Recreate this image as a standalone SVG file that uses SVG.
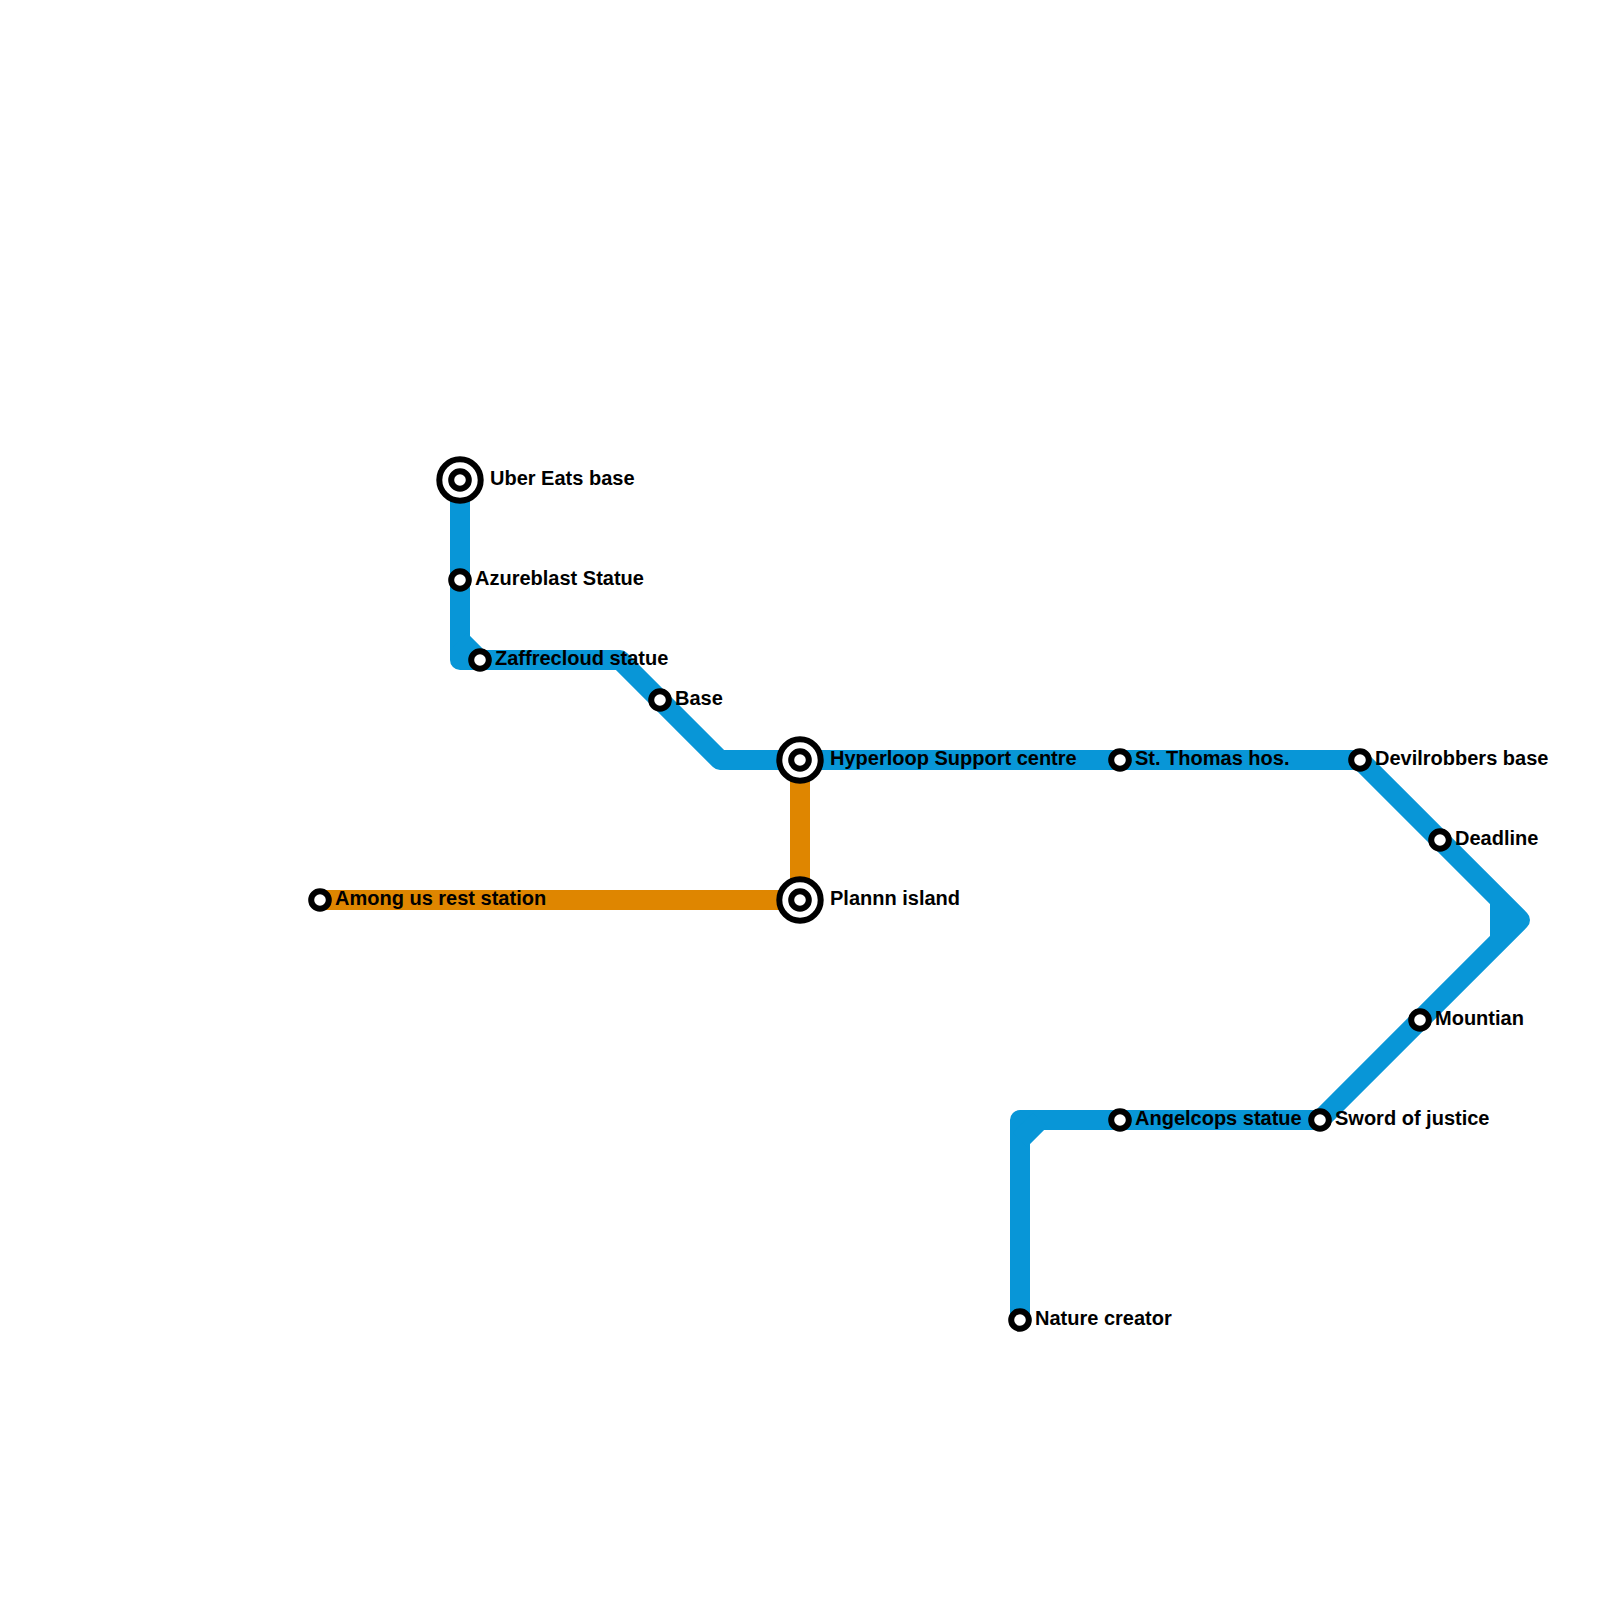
<svg xmlns="http://www.w3.org/2000/svg" width="1600" height="1600" viewBox="0 0 1600 1600">
<style>
.line{fill:none;stroke-width:20;stroke-linejoin:round;stroke-linecap:butt}
.blue{stroke:#0896d7}
.orange{stroke:#df8600}
.ring{fill:#fff;stroke:#000;stroke-width:6}
text{font-family:"Liberation Sans",Arial,sans-serif;font-weight:700;font-size:20px;fill:#000}
</style>
<rect width="1600" height="1600" fill="#fff"/>
<g id="connectors">
<path class="line blue" d="M460 480V660H620L720 760H1360L1520 920L1320 1120H1020V1320"/>
<path class="line blue" d="M460 640L480 660M1020 1140L1040 1120M1500 900V940"/>
<path class="line orange" d="M320 900H800V760"/>
</g>
<g id="uber-eats-base"><circle class="ring" cx="460" cy="480" r="20.7"/><circle class="ring" cx="460" cy="480" r="8.8"/><text x="490" y="485">Uber Eats base</text></g>
<g id="azureblast-statue"><circle class="ring" cx="460" cy="580" r="8.8"/><text x="475" y="585">Azureblast Statue</text></g>
<g id="zaffrecloud-statue"><circle class="ring" cx="480" cy="660" r="8.8"/><text x="495" y="665">Zaffrecloud statue</text></g>
<g id="base"><circle class="ring" cx="660" cy="700" r="8.8"/><text x="675" y="705">Base</text></g>
<g id="hyperloop-support-centre"><circle class="ring" cx="800" cy="760" r="20.7"/><circle class="ring" cx="800" cy="760" r="8.8"/><text x="830" y="765">Hyperloop Support centre</text></g>
<g id="plannn-island"><circle class="ring" cx="800" cy="900" r="20.7"/><circle class="ring" cx="800" cy="900" r="8.8"/><text x="830" y="905">Plannn island</text></g>
<g id="among-us-rest-station"><circle class="ring" cx="320" cy="900" r="8.8"/><text x="335" y="905">Among us rest station</text></g>
<g id="st-thomas-hos"><circle class="ring" cx="1120" cy="760" r="8.8"/><text x="1135" y="765">St. Thomas hos.</text></g>
<g id="devilrobbers-base"><circle class="ring" cx="1360" cy="760" r="8.8"/><text x="1375" y="765">Devilrobbers base</text></g>
<g id="deadline"><circle class="ring" cx="1440" cy="840" r="8.8"/><text x="1455" y="845">Deadline</text></g>
<g id="mountian"><circle class="ring" cx="1420" cy="1020" r="8.8"/><text x="1435" y="1025">Mountian</text></g>
<g id="sword-of-justice"><circle class="ring" cx="1320" cy="1120" r="8.8"/><text x="1335" y="1125">Sword of justice</text></g>
<g id="angelcops-statue"><circle class="ring" cx="1120" cy="1120" r="8.8"/><text x="1135" y="1125">Angelcops statue</text></g>
<g id="nature-creator"><circle class="ring" cx="1020" cy="1320" r="8.8"/><text x="1035" y="1325">Nature creator</text></g>
</svg>
